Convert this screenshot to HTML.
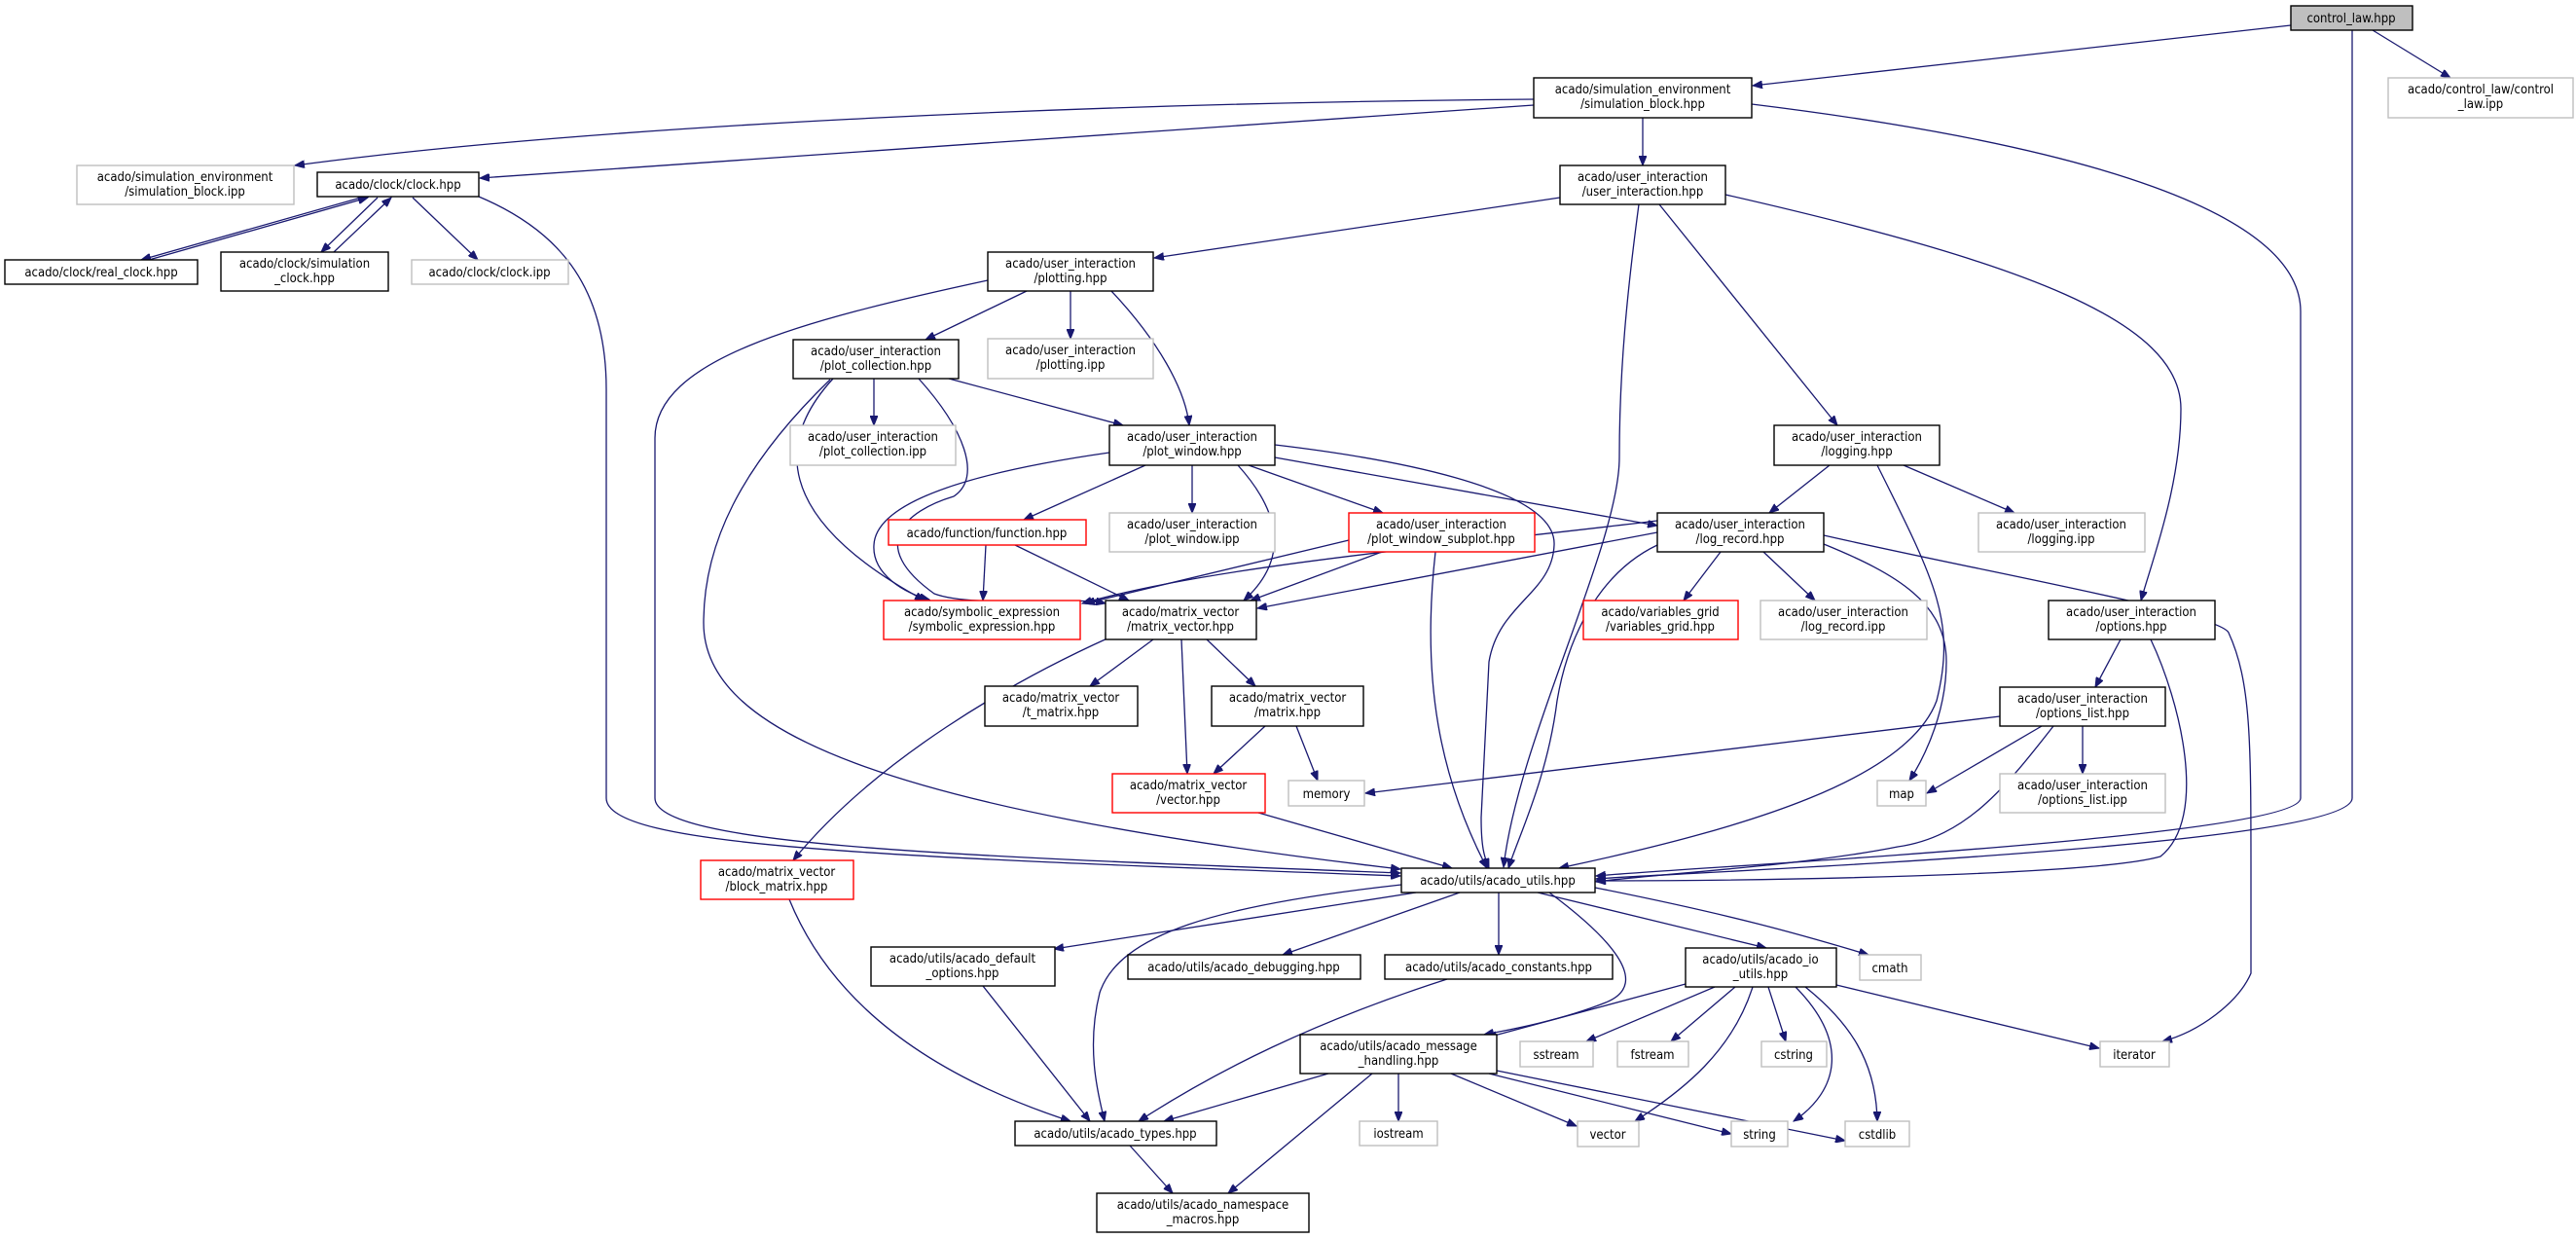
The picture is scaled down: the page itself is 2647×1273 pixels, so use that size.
<!DOCTYPE html>
<html><head><meta charset="utf-8"><style>
html,body{margin:0;padding:0;background:#fff;}
svg{display:block;}
text{font-family:"DejaVu Sans Condensed","DejaVu Sans","Liberation Sans",sans-serif;font-stretch:condensed;font-size:13px;fill:#000;text-anchor:middle;}
.e{fill:none;stroke:#191970;stroke-width:1.3;marker-end:url(#a);}
.b{fill:#fff;stroke:#000;stroke-width:1.4;}
.g{fill:#fff;stroke:#bfbfbf;stroke-width:1.4;}
.r{fill:#fff;stroke:#ff0000;stroke-width:1.4;}
</style></head><body>
<svg width="2647" height="1273" viewBox="0 0 2647 1273" xmlns="http://www.w3.org/2000/svg">
<defs><marker id="a" markerWidth="11" markerHeight="8" refX="10" refY="4" orient="auto" markerUnits="userSpaceOnUse"><path d="M0,0 L10,4 L0,8 z" fill="#191970" stroke="#191970"/></marker></defs>
<g>
<path class="e" d="M2354,26 L1801,88"/>
<path class="e" d="M2438,31 L2518,80"/>
<path class="e" d="M2417,31 L2417,820 C2417,870 1750,895 1640,903"/>
<path class="e" d="M1576,102 C1100,106 600,130 303,170"/>
<path class="e" d="M1576,108 L493,183"/>
<path class="e" d="M1688,121 L1688,170"/>
<path class="e" d="M1800,107 C2150,150 2364,220 2364,320 L2364,820 C2364,860 1750,890 1640,900"/>
<path class="e" d="M371,203 L145,267"/>
<path class="e" d="M153,267 L378,203"/>
<path class="e" d="M388,203 L330,259"/>
<path class="e" d="M343,259 L402,203"/>
<path class="e" d="M424,203 L491,267"/>
<path class="e" d="M492,202 C570,235 623,290 623,400 L623,820 C623,870 900,880 1439,900"/>
<path class="e" d="M1603,203 L1186,265"/>
<path class="e" d="M1684,210 C1672,300 1664,380 1664,470 C1664,560 1560,760 1545,891"/>
<path class="e" d="M1705,210 L1888,437"/>
<path class="e" d="M1773,200 C2080,270 2241,330 2241,420 C2241,500 2210,580 2200,617"/>
<path class="e" d="M1055,299 L951,349"/>
<path class="e" d="M1100,299 L1100,348"/>
<path class="e" d="M1142,299 C1190,350 1218,400 1222,437"/>
<path class="e" d="M1015,288 C820,330 673,370 673,450 L673,820 C673,870 1000,880 1439,897"/>
<path class="e" d="M898,389 L898,437"/>
<path class="e" d="M975,389 L1154,437"/>
<path class="e" d="M856,389 C800,450 790,530 950,617"/>
<path class="e" d="M944,389 C990,440 1010,490 980,510 C930,525 890,560 960,610 C1000,625 1100,612 1136,620"/>
<path class="e" d="M853,390 C760,480 723,560 723,640 C723,750 900,830 1439,893"/>
<path class="e" d="M1140,465 C1000,485 900,515 898,560 C896,590 930,610 955,616"/>
<path class="e" d="M1177,478 L1052,534"/>
<path class="e" d="M1225,478 L1225,527"/>
<path class="e" d="M1272,478 C1310,520 1330,570 1278,617"/>
<path class="e" d="M1283,478 L1421,527"/>
<path class="e" d="M1310,470 L1703,540"/>
<path class="e" d="M1310,457 C1420,470 1600,500 1597,560 C1595,610 1540,620 1530,680 L1522,840 C1522,870 1525,880 1530,892"/>
<path class="e" d="M1013,560 L1010,617"/>
<path class="e" d="M1043,560 L1160,617"/>
<path class="e" d="M1386,555 L1115,620"/>
<path class="e" d="M1420,567 L1285,617"/>
<path class="e" d="M1475,567 C1460,700 1480,800 1528,892"/>
<path class="e" d="M1703,535 C1500,560 1250,580 1112,620"/>
<path class="e" d="M1703,547 L1292,625"/>
<path class="e" d="M1768,567 L1730,617"/>
<path class="e" d="M1812,567 L1865,617"/>
<path class="e" d="M1874,559 C1950,590 2000,620 2000,680 C2000,740 1970,790 1962,802"/>
<path class="e" d="M1703,560 C1640,590 1610,660 1600,720 C1590,800 1560,860 1550,892"/>
<path class="e" d="M1874,550 C2050,590 2280,630 2290,650 C2313,700 2313,760 2313,900 L2313,1000 C2300,1030 2260,1060 2222,1070"/>
<path class="e" d="M1880,478 L1818,527"/>
<path class="e" d="M1956,478 L2070,527"/>
<path class="e" d="M1929,478 C1990,600 2010,640 1990,720 C1960,800 1800,850 1602,892"/>
<path class="e" d="M2179,657 L2153,706"/>
<path class="e" d="M2210,657 C2240,720 2270,840 2220,880 C2150,900 1800,905 1640,905"/>
<path class="e" d="M2055,736 L1403,815"/>
<path class="e" d="M2098,746 L1980,815"/>
<path class="e" d="M2140,746 L2140,795"/>
<path class="e" d="M2110,746 C2060,810 2020,860 1950,870 C1850,890 1700,898 1640,906"/>
<path class="e" d="M1185,657 L1120,705"/>
<path class="e" d="M1214,657 L1220,795"/>
<path class="e" d="M1240,657 L1290,705"/>
<path class="e" d="M1140,655 C1040,700 900,780 815,884"/>
<path class="e" d="M1300,746 L1247,795"/>
<path class="e" d="M1332,746 L1354,802"/>
<path class="e" d="M1293,835 L1492,892"/>
<path class="e" d="M811,924 C850,1020 940,1100 1100,1152"/>
<path class="e" d="M1455,917 L1083,975"/>
<path class="e" d="M1500,917 L1318,981"/>
<path class="e" d="M1540,917 L1540,981"/>
<path class="e" d="M1580,917 L1815,974"/>
<path class="e" d="M1639,912 C1780,940 1850,960 1920,981"/>
<path class="e" d="M1592,917 C1650,960 1700,1010 1650,1030 C1600,1050 1540,1060 1525,1063"/>
<path class="e" d="M1440,909 C1250,930 1150,960 1130,1020 C1115,1080 1130,1130 1135,1152"/>
<path class="e" d="M1010,1013 L1120,1152"/>
<path class="e" d="M1487,1006 C1350,1050 1250,1100 1170,1152"/>
<path class="e" d="M1732,1011 L1528,1066"/>
<path class="e" d="M1762,1014 L1630,1070"/>
<path class="e" d="M1783,1014 L1717,1070"/>
<path class="e" d="M1801,1014 C1780,1080 1730,1120 1680,1152"/>
<path class="e" d="M1817,1014 L1835,1070"/>
<path class="e" d="M1845,1014 C1900,1070 1890,1120 1843,1152"/>
<path class="e" d="M1855,1014 C1900,1050 1928,1090 1929,1152"/>
<path class="e" d="M1887,1012 L2157,1077"/>
<path class="e" d="M1365,1103 L1196,1152"/>
<path class="e" d="M1437,1103 L1437,1152"/>
<path class="e" d="M1491,1103 L1620,1157"/>
<path class="e" d="M1530,1103 L1779,1165"/>
<path class="e" d="M1538,1100 L1896,1172"/>
<path class="e" d="M1410,1103 L1262,1226"/>
<path class="e" d="M1161,1177 L1205,1226"/>
</g>
<g>
<rect x="2354" y="6" width="125" height="25" fill="#bfbfbf" stroke="#000" stroke-width="1.4"/><text x="2416" y="23">control_law.hpp</text>
<rect class="g" x="2454" y="80" width="190" height="41"/><text x="2549" y="96">acado/control_law/control</text><text x="2549" y="111">_law.ipp</text>
<rect class="b" x="1576" y="80" width="224" height="41"/><text x="1688" y="96">acado/simulation_environment</text><text x="1688" y="111">/simulation_block.hpp</text>
<rect class="g" x="79" y="170" width="223" height="40"/><text x="190" y="186">acado/simulation_environment</text><text x="190" y="201">/simulation_block.ipp</text>
<rect class="b" x="326" y="177" width="166" height="25"/><text x="409" y="194">acado/clock/clock.hpp</text>
<rect class="b" x="5" y="267" width="198" height="25"/><text x="104" y="284">acado/clock/real_clock.hpp</text>
<rect class="b" x="227" y="259" width="172" height="40"/><text x="313" y="275">acado/clock/simulation</text><text x="313" y="290">_clock.hpp</text>
<rect class="g" x="423" y="267" width="161" height="25"/><text x="503" y="284">acado/clock/clock.ipp</text>
<rect class="b" x="1603" y="170" width="170" height="40"/><text x="1688" y="186">acado/user_interaction</text><text x="1688" y="201">/user_interaction.hpp</text>
<rect class="b" x="1015" y="259" width="170" height="40"/><text x="1100" y="275">acado/user_interaction</text><text x="1100" y="290">/plotting.hpp</text>
<rect class="g" x="1015" y="348" width="170" height="41"/><text x="1100" y="364">acado/user_interaction</text><text x="1100" y="379">/plotting.ipp</text>
<rect class="b" x="815" y="349" width="170" height="40"/><text x="900" y="365">acado/user_interaction</text><text x="900" y="380">/plot_collection.hpp</text>
<rect class="g" x="812" y="437" width="170" height="41"/><text x="897" y="453">acado/user_interaction</text><text x="897" y="468">/plot_collection.ipp</text>
<rect class="b" x="1140" y="437" width="170" height="41"/><text x="1225" y="453">acado/user_interaction</text><text x="1225" y="468">/plot_window.hpp</text>
<rect class="b" x="1823" y="437" width="170" height="41"/><text x="1908" y="453">acado/user_interaction</text><text x="1908" y="468">/logging.hpp</text>
<rect class="r" x="913" y="534" width="203" height="26"/><text x="1014" y="552">acado/function/function.hpp</text>
<rect class="g" x="1140" y="527" width="170" height="40"/><text x="1225" y="543">acado/user_interaction</text><text x="1225" y="558">/plot_window.ipp</text>
<rect class="r" x="1386" y="527" width="191" height="40"/><text x="1481" y="543">acado/user_interaction</text><text x="1481" y="558">/plot_window_subplot.hpp</text>
<rect class="b" x="1703" y="527" width="171" height="40"/><text x="1788" y="543">acado/user_interaction</text><text x="1788" y="558">/log_record.hpp</text>
<rect class="g" x="2033" y="527" width="171" height="40"/><text x="2118" y="543">acado/user_interaction</text><text x="2118" y="558">/logging.ipp</text>
<rect class="r" x="908" y="617" width="202" height="40"/><text x="1009" y="633">acado/symbolic_expression</text><text x="1009" y="648">/symbolic_expression.hpp</text>
<rect class="b" x="1136" y="617" width="155" height="40"/><text x="1213" y="633">acado/matrix_vector</text><text x="1213" y="648">/matrix_vector.hpp</text>
<rect class="r" x="1627" y="617" width="159" height="40"/><text x="1706" y="633">acado/variables_grid</text><text x="1706" y="648">/variables_grid.hpp</text>
<rect class="g" x="1809" y="617" width="171" height="40"/><text x="1894" y="633">acado/user_interaction</text><text x="1894" y="648">/log_record.ipp</text>
<rect class="b" x="2105" y="617" width="171" height="40"/><text x="2190" y="633">acado/user_interaction</text><text x="2190" y="648">/options.hpp</text>
<rect class="b" x="1012" y="705" width="157" height="41"/><text x="1090" y="721">acado/matrix_vector</text><text x="1090" y="736">/t_matrix.hpp</text>
<rect class="b" x="1245" y="705" width="156" height="41"/><text x="1323" y="721">acado/matrix_vector</text><text x="1323" y="736">/matrix.hpp</text>
<rect class="b" x="2055" y="706" width="170" height="40"/><text x="2140" y="722">acado/user_interaction</text><text x="2140" y="737">/options_list.hpp</text>
<rect class="r" x="1143" y="795" width="157" height="40"/><text x="1221" y="811">acado/matrix_vector</text><text x="1221" y="826">/vector.hpp</text>
<rect class="g" x="1324" y="802" width="78" height="26"/><text x="1363" y="820">memory</text>
<rect class="g" x="1929" y="802" width="50" height="26"/><text x="1954" y="820">map</text>
<rect class="g" x="2055" y="795" width="170" height="40"/><text x="2140" y="811">acado/user_interaction</text><text x="2140" y="826">/options_list.ipp</text>
<rect class="r" x="720" y="884" width="157" height="40"/><text x="798" y="900">acado/matrix_vector</text><text x="798" y="915">/block_matrix.hpp</text>
<rect class="b" x="1440" y="892" width="199" height="25"/><text x="1539" y="909">acado/utils/acado_utils.hpp</text>
<rect class="b" x="895" y="973" width="189" height="40"/><text x="989" y="989">acado/utils/acado_default</text><text x="989" y="1004">_options.hpp</text>
<rect class="b" x="1159" y="981" width="239" height="25"/><text x="1278" y="998">acado/utils/acado_debugging.hpp</text>
<rect class="b" x="1423" y="981" width="234" height="25"/><text x="1540" y="998">acado/utils/acado_constants.hpp</text>
<rect class="b" x="1732" y="974" width="155" height="40"/><text x="1809" y="990">acado/utils/acado_io</text><text x="1809" y="1005">_utils.hpp</text>
<rect class="g" x="1911" y="981" width="63" height="26"/><text x="1942" y="999">cmath</text>
<rect class="b" x="1336" y="1063" width="202" height="40"/><text x="1437" y="1079">acado/utils/acado_message</text><text x="1437" y="1094">_handling.hpp</text>
<rect class="g" x="1562" y="1070" width="75" height="26"/><text x="1599" y="1088">sstream</text>
<rect class="g" x="1662" y="1070" width="73" height="26"/><text x="1698" y="1088">fstream</text>
<rect class="g" x="1810" y="1070" width="67" height="26"/><text x="1843" y="1088">cstring</text>
<rect class="g" x="2158" y="1070" width="71" height="26"/><text x="2193" y="1088">iterator</text>
<rect class="b" x="1043" y="1152" width="207" height="25"/><text x="1146" y="1169">acado/utils/acado_types.hpp</text>
<rect class="g" x="1397" y="1152" width="80" height="25"/><text x="1437" y="1169">iostream</text>
<rect class="g" x="1621" y="1152" width="63" height="26"/><text x="1652" y="1170">vector</text>
<rect class="g" x="1779" y="1152" width="58" height="26"/><text x="1808" y="1170">string</text>
<rect class="g" x="1896" y="1152" width="66" height="26"/><text x="1929" y="1170">cstdlib</text>
<rect class="b" x="1127" y="1226" width="218" height="40"/><text x="1236" y="1242">acado/utils/acado_namespace</text><text x="1236" y="1257">_macros.hpp</text>
</g>
</svg>
</body></html>
